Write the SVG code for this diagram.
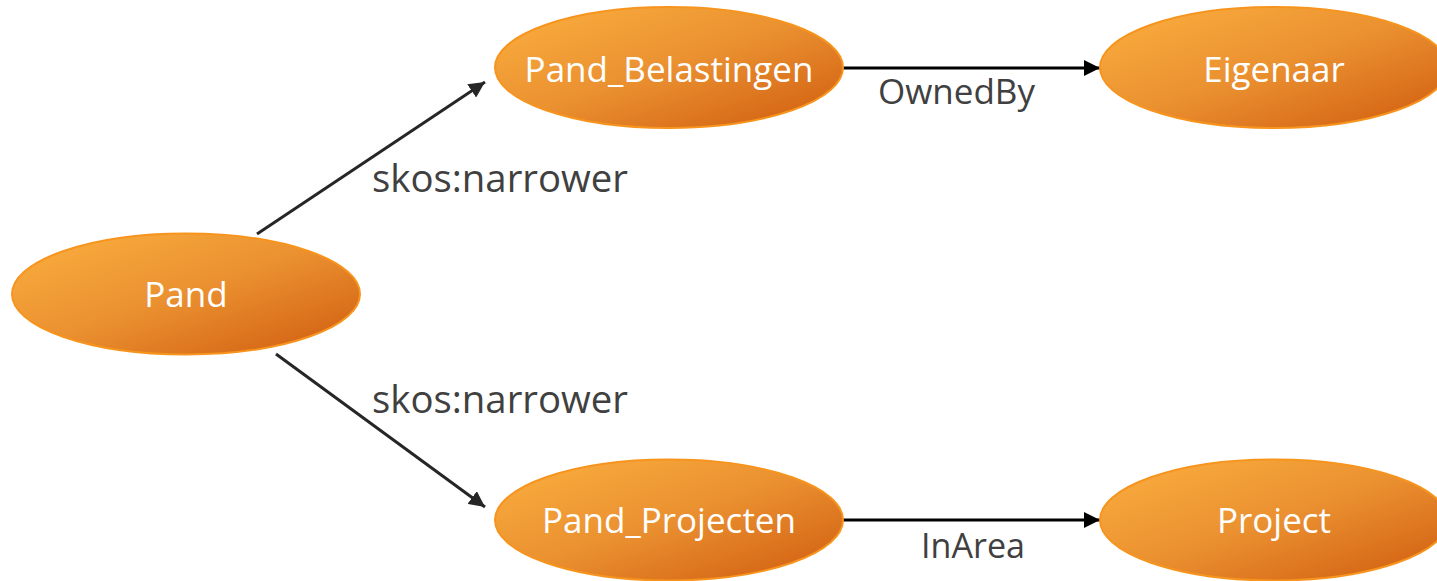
<svg xmlns="http://www.w3.org/2000/svg" width="1437" height="581" viewBox="0 0 1437 581">
<defs>
<linearGradient id="g" x1="0" y1="0" x2="1" y2="1">
<stop offset="0" stop-color="#FBB040"/>
<stop offset="0.5" stop-color="#EA9030"/>
<stop offset="1" stop-color="#CF5A0E"/>
</linearGradient>
<marker id="ahd" viewBox="0 0 10 10" refX="10" refY="5" markerWidth="16" markerHeight="16" markerUnits="userSpaceOnUse" orient="auto">
<path d="M0,0 L10,5 L0,10 z" fill="#262626"/>
</marker>
<marker id="ahk" viewBox="0 0 10 10" refX="10" refY="5" markerWidth="16" markerHeight="16" markerUnits="userSpaceOnUse" orient="auto">
<path d="M0,0 L10,5 L0,10 z" fill="#000"/>
</marker>
</defs>
<style>
.node ellipse{fill:url(#g);stroke:#F7941D;stroke-width:2}
.node text{fill:#fff;font-family:"Open Sans","Noto Sans",sans-serif;font-size:35px;text-anchor:middle}
.lbl{fill:#404040;font-family:"Open Sans","Noto Sans",sans-serif}
.diag{stroke:#262626;stroke-width:3;fill:none;marker-end:url(#ahd)}
.hor{stroke:#000;stroke-width:3;fill:none;marker-end:url(#ahk)}
</style>
<rect width="1437" height="581" fill="#fff"/>
<g id="connectors">
<line class="diag" x1="257" y1="234" x2="485" y2="82"/>
<line class="diag" x1="276" y1="354" x2="485" y2="507"/>
<line class="hor" x1="843" y1="68" x2="1100" y2="68"/>
<line class="hor" x1="843" y1="520" x2="1100" y2="520"/>
<text class="lbl" x="372" y="192" font-size="39" textLength="256" lengthAdjust="spacingAndGlyphs">skos:narrower</text>
<text class="lbl" x="372" y="413" font-size="39" textLength="256" lengthAdjust="spacingAndGlyphs">skos:narrower</text>
<text class="lbl" x="878" y="104" font-size="35" textLength="157" lengthAdjust="spacingAndGlyphs">OwnedBy</text>
<text class="lbl" x="921" y="558" font-size="35" textLength="104" lengthAdjust="spacingAndGlyphs">InArea</text>
</g>
<g id="pand" class="node"><ellipse cx="186" cy="294" rx="174" ry="60.5"/><text x="186" y="307">Pand</text></g>
<g id="pand_belastingen" class="node"><ellipse cx="669" cy="67.5" rx="174" ry="60.5"/><text x="669" y="82">Pand_Belastingen</text></g>
<g id="eigenaar" class="node"><ellipse cx="1274" cy="67.5" rx="174" ry="60.5"/><text x="1274" y="82">Eigenaar</text></g>
<g id="pand_projecten" class="node"><ellipse cx="669" cy="520" rx="174" ry="60.5"/><text x="669" y="533">Pand_Projecten</text></g>
<g id="project" class="node"><ellipse cx="1274" cy="520" rx="174" ry="60.5"/><text x="1274" y="533">Project</text></g>
</svg>
